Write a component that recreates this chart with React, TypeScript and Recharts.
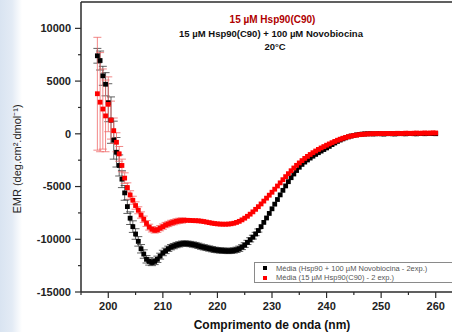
import React from "react";
import {
  ScatterChart,
  Scatter,
  XAxis,
  YAxis,
  ErrorBar,
  ReferenceLine,
} from "recharts";

// wavelength (nm)
const wavelength = [
  198, 198.5, 199, 199.5, 200, 200.5, 201, 201.5, 202, 202.5, 203, 203.5, 204, 204.5, 205, 205.5,
  206, 206.5, 207, 207.5, 208, 208.5, 209, 209.5, 210, 210.5, 211, 211.5, 212, 212.5, 213, 213.5,
  214, 214.5, 215, 215.5, 216, 216.5, 217, 217.5, 218, 218.5, 219, 219.5, 220, 220.5, 221, 221.5,
  222, 222.5, 223, 223.5, 224, 224.5, 225, 225.5, 226, 226.5, 227, 227.5, 228, 228.5, 229, 229.5,
  230, 230.5, 231, 231.5, 232, 232.5, 233, 233.5, 234, 234.5, 235, 235.5, 236, 236.5, 237, 237.5,
  238, 238.5, 239, 239.5, 240, 240.5, 241, 241.5, 242, 242.5, 243, 243.5, 244, 244.5, 245, 245.5,
  246, 246.5, 247, 247.5, 248, 248.5, 249, 249.5, 250, 250.5, 251, 251.5, 252, 252.5, 253, 253.5,
  254, 254.5, 255, 255.5, 256, 256.5, 257, 257.5, 258, 258.5, 259, 259.5, 260,
];

// Média (Hsp90 + 100 µM Novobiocina - 2exp.)
const novobiocina = [
  7400, 6950, 5500, 4700, 2950, 1300, -600, -1750, -3000, -4300, -5600, -6900, -8000, -8800, -9500, -10200,
  -10900, -11400, -11900, -12100, -12200, -12100, -11900, -11600, -11300, -11100, -10900, -10750, -10650, -10550, -10480, -10420,
  -10400, -10420, -10450, -10500, -10550, -10620, -10700, -10760, -10820, -10880, -10940, -11000, -11030, -11060, -11080, -11100,
  -11110, -11100, -11060, -11000, -10900, -10750, -10550, -10300, -10050, -9800, -9500, -9170, -8800, -8400, -7980, -7550,
  -7110, -6670, -6230, -5790, -5360, -4940, -4540, -4160, -3810, -3480, -3170, -2900, -2680, -2480, -2300, -2120,
  -1950, -1790, -1640, -1490, -1340, -1190, -1020, -870, -720, -590, -480, -380, -290, -210, -150, -100,
  -60, -30, -10, 0, 10, -10, 0, 20, 0, -20, 10, 20, 0, -10, 10, 30,
  10, 0, 20, 30, 10, 0, 20, 30, 10, 20, 40, 20, 10,
];
const novobiocinaErr = [
  700, 900, 900, 1100, 1800, 2200, 1800, 1400, 1000, 800, 700, 650, 600, 550, 500, 450,
  400, 400, 350, 350, 300, 300, 300, 280, 260, 260, 250, 250, 250, 250, 250, 250,
  250, 250, 250, 250, 250, 250, 250, 250, 250, 250, 250, 250, 250, 250, 250, 250,
  250, 250, 250, 250, 250, 230, 220, 200, 200, 180, 160, 150,
];

// Média (15 µM Hsp90(C90) - 2 exp.)
const hsp90 = [
  3800, 3000, 2350, 1700, 2800, 1300, 300, -800, -1900, -3000, -4200, -5100, -5800, -6300, -6800, -7250,
  -7700, -8100, -8500, -8850, -9050, -9150, -9100, -8950, -8800, -8650, -8550, -8450, -8380, -8300, -8250, -8220,
  -8200, -8200, -8210, -8230, -8240, -8250, -8280, -8320, -8370, -8420, -8470, -8510, -8540, -8560, -8570, -8570,
  -8560, -8530, -8480, -8400, -8300, -8160, -8000, -7820, -7620, -7400, -7160, -6910, -6650, -6380, -6100, -5820,
  -5540, -5250, -4950, -4650, -4350, -4060, -3780, -3500, -3240, -2990, -2760, -2540, -2330, -2140, -1960, -1790,
  -1630, -1480, -1340, -1210, -1080, -960, -840, -720, -610, -510, -420, -340, -270, -210, -160, -120,
  -80, -50, -30, -10, 0, 10, 20, 10, 30, 20, 40, 30, 20, 40, 50, 30,
  40, 60, 50, 40, 60, 70, 50, 60, 80, 60, 70, 90, 80,
];
const hsp90Err = [
  5350, 4700, 3800, 3400, 2600, 1800, 1200, 900, 700, 600, 500, 450, 400, 380, 350, 330,
  300, 300, 280, 280, 260, 260, 250, 250, 250, 250, 250, 250, 250, 250, 250, 250,
];

const xTicks = [195, 200, 205, 210, 215, 220, 225, 230, 235, 240, 245, 250, 255, 260, 265];
const yTicks = [-15000, -12500, -10000, -7500, -5000, -2500, 0, 2500, 5000, 7500, 10000];

const blackData = wavelength.map((nm, i) => ({ nm, v: novobiocina[i], err: novobiocinaErr[i] }));
const redData = wavelength.map((nm, i) => ({ nm, v: hsp90[i], err: hsp90Err[i] }));

const FONT = "'Liberation Sans', Arial, sans-serif";
const AXIS = "#2b2b2b";
const TICK_SIZE = 6;
const TICK_MARGIN = 4;

const XTick = (props: any) => {
  const { x, y, payload } = props;
  const axisY = y - TICK_SIZE - TICK_MARGIN;
  const major = payload.value % 10 === 0;
  return (
    <g>
      <line x1={x} x2={x} y1={axisY} y2={axisY + (major ? 6 : 3)} stroke={AXIS} strokeWidth={1.2} />
      {major && (
        <text x={x} y={y} dy="0.71em" textAnchor="middle" fontSize={11} fontWeight="bold" fill="#222" fontFamily={FONT}>
          {payload.value}
        </text>
      )}
    </g>
  );
};

const YTick = (props: any) => {
  const { x, y, payload } = props;
  const axisX = x + TICK_SIZE + TICK_MARGIN;
  const major = payload.value % 5000 === 0;
  return (
    <g>
      <line x1={axisX} x2={axisX - (major ? 6 : 3)} y1={y} y2={y} stroke={AXIS} strokeWidth={1.2} />
      {major && (
        <text x={x} y={y} dy="0.35em" textAnchor="end" fontSize={11} fontWeight="bold" fill="#222" fontFamily={FONT}>
          {payload.value}
        </text>
      )}
    </g>
  );
};

const square = (color: string) => (props: any) =>
  <rect x={props.cx - 2.4} y={props.cy - 2.4} width={4.8} height={4.8} fill={color} />;

const YLabel = () => (
  <text x={17} y={159} transform="rotate(-90,17,159)" textAnchor="middle" dominantBaseline="central"
    fontSize={11} fill="#222" fontFamily={FONT}>
    EMR (deg.cm².dmol⁻¹)
  </text>
);

export default function App() {
  return (
    <div style={{ position: "fixed", left: 0, top: 0, width: 452, height: 332, overflow: "hidden",
      background: "linear-gradient(to right, #d9e4f1 0px, #e3ebf5 12px, #ffffff 22px)", fontFamily: FONT }}>
      <ScatterChart width={470} height={332} margin={{ top: 2, right: 7, bottom: 0, left: 0 }}>
        <XAxis
          type="number"
          dataKey="nm"
          domain={[195, 265]}
          ticks={xTicks}
          interval={0}
          tick={<XTick />}
          tickLine={false}
          tickSize={TICK_SIZE}
          tickMargin={TICK_MARGIN}
          height={40}
          stroke={AXIS}
          strokeWidth={1.5}
          label={{ value: "Comprimento de onda (nm)", position: "insideBottom", offset: 3, fontSize: 12, fontWeight: "bold", fill: "#111", fontFamily: FONT }}
        />
        <YAxis
          type="number"
          dataKey="v"
          domain={[-15000, 12500]}
          ticks={yTicks}
          interval={0}
          tick={<YTick />}
          tickLine={false}
          tickSize={TICK_SIZE}
          tickMargin={TICK_MARGIN}
          width={81}
          stroke={AXIS}
          strokeWidth={1.5}
          label={<YLabel />}
        />
        <ReferenceLine y={12500} stroke={AXIS} strokeWidth={1.5} />
        <Scatter data={blackData} shape={square("#000000")} isAnimationActive={false}>
          <ErrorBar dataKey="err" direction="y" width={4} stroke="#3a3a3a" strokeWidth={0.8} isAnimationActive={false} />
        </Scatter>
        <Scatter data={redData} shape={square("#ff0000")} isAnimationActive={false}>
          <ErrorBar dataKey="err" direction="y" width={4} stroke="#ef6a6a" strokeWidth={0.8} isAnimationActive={false} />
        </Scatter>
      </ScatterChart>

      <div style={{ position: "absolute", left: 0, width: 545, top: 13, textAlign: "center", fontSize: 10, fontWeight: "bold", color: "#b00000", lineHeight: "13px" }}>
        15 µM Hsp90(C90)
      </div>
      <div style={{ position: "absolute", left: 0, width: 542, top: 27, textAlign: "center", fontSize: 9.5, fontWeight: "bold", color: "#111", lineHeight: "13px" }}>
        15 µM Hsp90(C90) + 100 µM Novobiocina
      </div>
      <div style={{ position: "absolute", left: 0, width: 550, top: 40, textAlign: "center", fontSize: 9.5, fontWeight: "bold", color: "#111", lineHeight: "13px" }}>
        20°C
      </div>

      <div style={{ position: "absolute", left: 254, top: 262, width: 200, height: 21, border: "1px solid #8a8a8a", background: "#fff", boxSizing: "border-box", fontSize: 7.5, color: "#555", lineHeight: "9.5px", paddingTop: 0.5 }}>
        <div style={{ display: "flex", alignItems: "center" }}>
          <span style={{ display: "inline-block", width: 4, height: 4, background: "#000", marginLeft: 8, marginRight: 9 }} />
          Média (Hsp90 + 100 µM Novobiocina - 2exp.)
        </div>
        <div style={{ display: "flex", alignItems: "center" }}>
          <span style={{ display: "inline-block", width: 4, height: 4, background: "#ff0000", marginLeft: 8, marginRight: 9 }} />
          Média (15 µM Hsp90(C90) - 2 exp.)
        </div>
      </div>
    </div>
  );
}
